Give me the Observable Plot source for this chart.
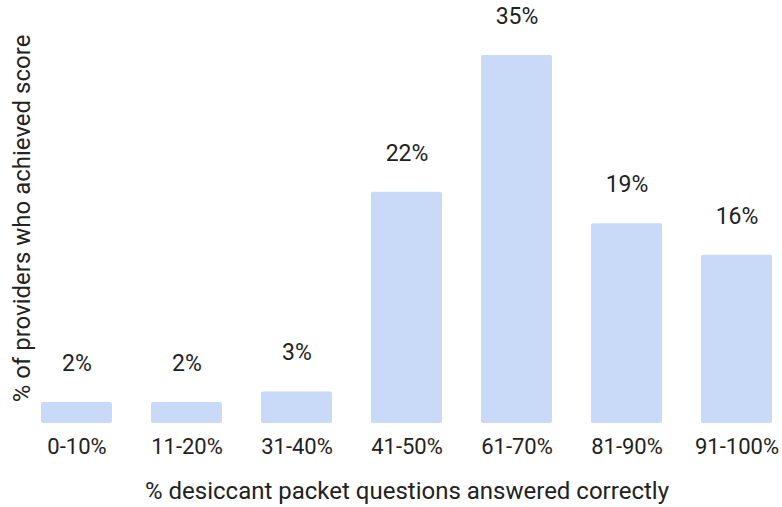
<!DOCTYPE html>
<html>
<head>
<meta charset="utf-8">
<script src="https://cdn.jsdelivr.net/npm/d3@7"></script>
<script src="https://cdn.jsdelivr.net/npm/@observablehq/plot@0.6"></script>
<style>
  html, body { margin: 0; padding: 0; background: #fff; }
  #chart svg { display: block; }
</style>
</head>
<body>
<div id="chart"></div>
<script>
// Score bands and share of providers in each band (percent)
const scoreBands = ["0-10%", "11-20%", "31-40%", "41-50%", "61-70%", "81-90%", "91-100%"];
const providerShare = [2, 2, 3, 22, 35, 19, 16];

const xTitle = "% desiccant packet questions answered correctly";
const yTitle = "% of providers who achieved score";

const rows = scoreBands.map((band, i) => ({band, share: providerShare[i]}));

const chart = Plot.plot({
  width: 782,
  height: 507,
  marginLeft: 40,
  marginRight: 9,
  marginTop: 55,
  marginBottom: 84,
  style: {fontFamily: "Roboto", color: "#222", background: "#fff"},
  x: {domain: scoreBands, paddingInner: 0.356, paddingOuter: 0},
  y: {domain: [0, 35], axis: null},
  marks: [
    Plot.rectY(rows, {x: "band", y: "share", fill: "#c9daf8", rx: 2}),
    // value labels above each bar
    Plot.text(rows, {
      x: "band", y: "share", text: d => `${d.share}%`,
      dy: -39, fontSize: 23, fill: "#222"
    }),
    Plot.axisX({
      tickSize: 0, tickPadding: 15, fontSize: 22, label: null
    }),
    // horizontal axis title
    Plot.text([xTitle], {
      frameAnchor: "bottom", dy: 75, fontSize: 24, fill: "#222"
    }),
    // vertical axis title
    Plot.text([yTitle], {
      frameAnchor: "left", textAnchor: "middle", rotate: -90, dx: -18, dy: -21,
      fontSize: 24, fill: "#222"
    })
  ]
});

document.getElementById("chart").append(chart);
</script>
</body>
</html>
